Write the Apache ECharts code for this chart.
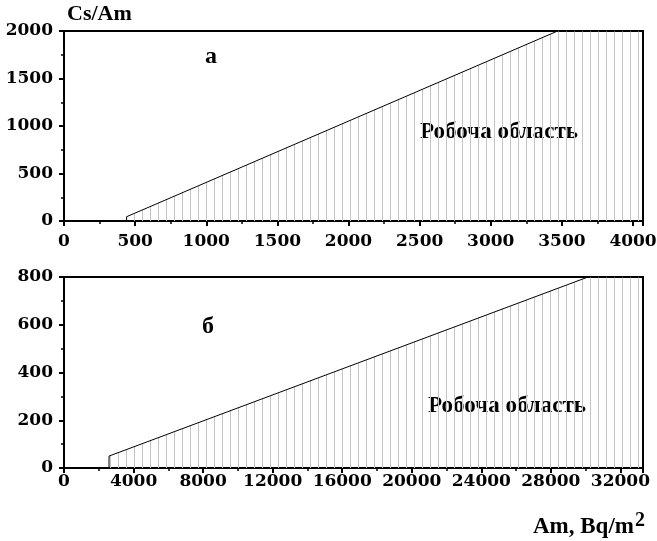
<!DOCTYPE html>
<html>
<head>
<meta charset="utf-8">
<script src="https://cdn.jsdelivr.net/npm/echarts@6/dist/echarts.min.js"></script>
<style>
  html, body { margin: 0; padding: 0; background: #fff; }
  #chart { width: 657px; height: 541px; }
</style>
</head>
<body>
<div id="chart"></div>
<script>
// panel а: boundary of the working area
const topAm = [440, 440, 3470, 4070];
const topCsAm = [0, 45, 2000, 2000];
// panel б
const botAm = [2590, 2590, 30140, 33300];
const botCsAm = [0, 50, 800, 800];

const topXMax = 4070;
const botXMax = 33300;

const tickFont = '"DejaVu Serif", "Liberation Serif", serif';
const textFont = '"Liberation Serif", "Times New Roman", serif';

// vertical hatching used as fill
const hatch = document.createElement('canvas');
hatch.width = 8;
hatch.height = 8;
const hctx = hatch.getContext('2d');
hctx.fillStyle = '#c4c4c4';
hctx.fillRect(6, 0, 1, 8);

function toPairs(xs, ys) {
  return xs.map((x, i) => [x, ys[i]]);
}

function plain(v) {
  return String(v);
}

function xAxisCfg(gridIndex, max, interval, margin) {
  return {
    type: 'value',
    gridIndex: gridIndex,
    min: 0,
    max: max,
    interval: interval,
    axisLine: { lineStyle: { color: '#000', width: 2 } },
    axisTick: { show: true, length: 5, lineStyle: { color: '#000', width: 2 } },
    minorTick: { show: true, splitNumber: 2, length: 3, lineStyle: { color: '#000', width: 1.5 } },
    axisLabel: {
      margin: margin,
      showMaxLabel: false,
      formatter: plain,
      color: '#000',
      fontFamily: tickFont,
      fontWeight: 'bold',
      fontSize: 17,
    },
    splitLine: { show: false },
  };
}

function yAxisCfg(gridIndex, max, interval) {
  return {
    type: 'value',
    gridIndex: gridIndex,
    min: 0,
    max: max,
    interval: interval,
    axisLine: { show: true, lineStyle: { color: '#000', width: 2 } },
    axisTick: { show: true, length: 5, lineStyle: { color: '#000', width: 2 } },
    minorTick: { show: true, splitNumber: 2, length: 3, lineStyle: { color: '#000', width: 1.5 } },
    axisLabel: {
      margin: 11,
      formatter: plain,
      color: '#000',
      fontFamily: tickFont,
      fontWeight: 'bold',
      fontSize: 17,
    },
    splitLine: { show: false },
  };
}

function areaSeries(axisIndex, data) {
  return {
    type: 'line',
    xAxisIndex: axisIndex,
    yAxisIndex: axisIndex,
    data: data,
    showSymbol: false,
    lineStyle: { color: '#000', width: 1 },
    areaStyle: { color: { image: hatch, repeat: 'repeat' }, opacity: 1 },
    z: 1,
  };
}

function label(text, x, y, size) {
  return {
    type: 'text',
    x: x,
    y: y,
    style: {
      text: text,
      fill: '#000',
      font: 'bold ' + size + 'px ' + textFont,
      align: 'center',
      verticalAlign: 'middle',
    },
  };
}

const chart = echarts.init(document.getElementById('chart'), null, { renderer: 'canvas' });
chart.setOption({
  animation: false,
  backgroundColor: '#fff',
  grid: [
    { left: 64, top: 31, width: 579, height: 190, outerBoundsMode: 'none', show: true, borderColor: '#000', borderWidth: 2, backgroundColor: 'transparent' },
    { left: 64, top: 277, width: 579, height: 191, outerBoundsMode: 'none', show: true, borderColor: '#000', borderWidth: 2, backgroundColor: 'transparent' },
  ],
  xAxis: [
    xAxisCfg(0, topXMax, 500, 12),
    xAxisCfg(1, botXMax, 4000, 5),
  ],
  yAxis: [
    yAxisCfg(0, 2000, 500),
    yAxisCfg(1, 800, 200),
  ],
  series: [
    areaSeries(0, toPairs(topAm, topCsAm)),
    areaSeries(1, toPairs(botAm, botCsAm)),
  ],
  graphic: [
    {
      type: 'text',
      x: 67,
      y: 14,
      style: {
        text: 'Cs/Am',
        fill: '#000',
        font: 'bold 22px ' + textFont,
        align: 'left',
        verticalAlign: 'middle',
      },
    },
    label('а', 211, 57, 24),
    label('Робоча область', 499, 132, 23),
    label('б', 208, 327, 24),
    label('Робоча область', 507, 406, 23),
    {
      type: 'text',
      x: 533,
      y: 527,
      style: {
        text: 'Am, Bq/m{sup|2}',
        fill: '#000',
        font: 'bold 23px ' + textFont,
        align: 'left',
        verticalAlign: 'middle',
        rich: {
          sup: {
            fontFamily: textFont,
            fontWeight: 'bold',
            fontSize: 20,
            verticalAlign: 'bottom',
            padding: [0, 0, 12, 1],
          },
        },
      },
    },
  ],
});
</script>
</body>
</html>
